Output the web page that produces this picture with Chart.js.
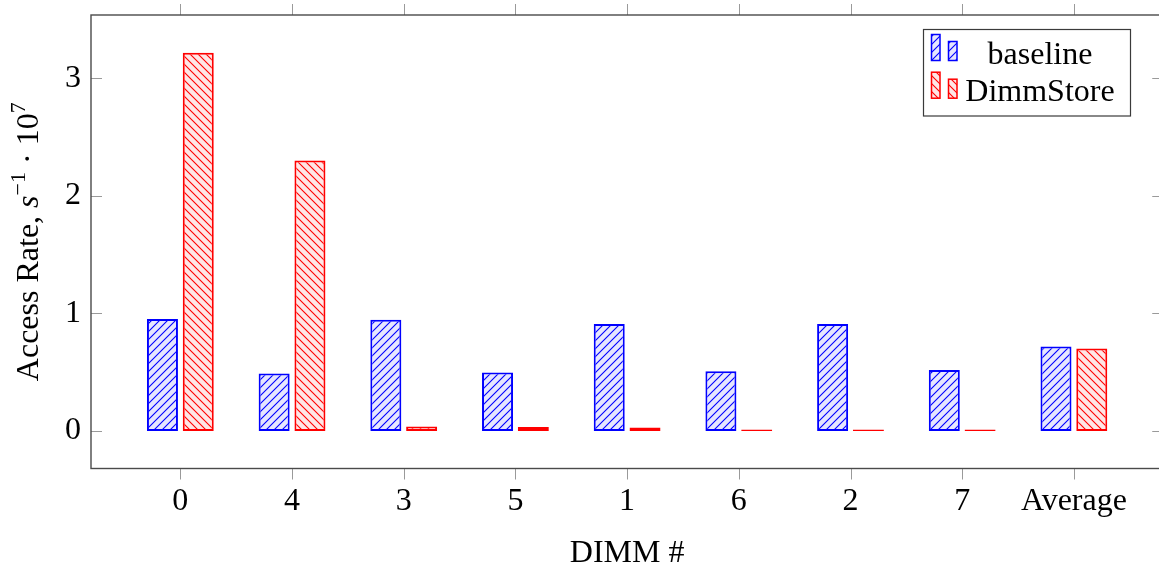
<!DOCTYPE html>
<html>
<head>
<meta charset="utf-8">
<script src="https://cdn.jsdelivr.net/npm/chart.js@4.4.1/dist/chart.umd.min.js"></script>
<style>
  html, body { margin: 0; padding: 0; background: #fff; }
  #wrap { width: 1159px; height: 568px; }
</style>
</head>
<body>
<div id="wrap"><canvas id="chart" width="1159" height="568"></canvas></div>
<script>
// Access rate per DIMM, in units of 10^7 accesses per second
const categories = ['0', '4', '3', '5', '1', '6', '2', '7', 'Average'];
const baselineRate = [0.952, 0.488, 0.945, 0.496, 0.910, 0.507, 0.910, 0.519, 0.717];
const dimmStoreRate = [3.217, 2.300, 0.037, 0.034, 0.028, 0.004, 0.004, 0.004, 0.700];
const seriesNames = ['baseline', 'DimmStore'];
const yTickValues = [0, 1, 2, 3];
const xAxisTitle = 'DIMM #';

const SERIF = "'Liberation Serif', 'Times New Roman', serif";
const FONT_PX = 32;

// Diagonal hatch fill, like TikZ "north east lines" / "north west lines"
function hatch(fill, stroke, dir) {
  const s = 8;
  const c = document.createElement('canvas');
  c.width = s; c.height = s;
  const g = c.getContext('2d');
  g.fillStyle = fill;
  g.fillRect(0, 0, s, s);
  g.strokeStyle = stroke;
  g.lineWidth = 1.1;
  g.beginPath();
  if (dir === 'ne') {
    g.moveTo(-1, s + 1); g.lineTo(s + 1, -1);
    g.moveTo(-1, 1); g.lineTo(1, -1);
    g.moveTo(s - 1, s + 1); g.lineTo(s + 1, s - 1);
  } else {
    g.moveTo(-1, -1); g.lineTo(s + 1, s + 1);
    g.moveTo(s - 1, -1); g.lineTo(s + 1, 1);
    g.moveTo(-1, s - 1); g.lineTo(1, s + 1);
  }
  g.stroke();
  return g.createPattern(c, 'repeat');
}

const ctx0 = document.getElementById('chart').getContext('2d');
const bluePattern = hatch('rgb(230,230,255)', 'rgb(0,0,255)', 'ne');
const redPattern = hatch('rgb(255,230,230)', 'rgb(255,0,0)', 'nw');

const toPoints = vals => vals.map((v, i) => ({ x: i, y: v }));

// Frame, mirrored ticks, axis titles and legend box
const decorations = {
  id: 'decorations',
  afterDraw(chart) {
    const { ctx, chartArea: a, scales: { x, y } } = chart;
    const right = x.getPixelForValue(8.8);
    const tick = 11;
    ctx.save();

    // ticks
    ctx.strokeStyle = '#9a9a9a';
    ctx.lineWidth = 1;
    ctx.beginPath();
    x.ticks.forEach(t => {
      const px = Math.round(x.getPixelForValue(t.value)) + 0.5;
      ctx.moveTo(px, a.top); ctx.lineTo(px, a.top - tick);
      ctx.moveTo(px, a.bottom); ctx.lineTo(px, a.bottom + tick);
    });
    y.ticks.forEach(t => {
      const py = Math.round(y.getPixelForValue(t.value)) + 0.5;
      ctx.moveTo(a.left, py); ctx.lineTo(a.left + tick, py);
      ctx.moveTo(right, py); ctx.lineTo(right - tick, py);
    });
    ctx.stroke();

    // axis box
    ctx.strokeStyle = '#4a4a4a';
    ctx.lineWidth = 1.4;
    ctx.strokeRect(a.left, a.top, right - a.left, a.bottom - a.top);

    // x title
    ctx.fillStyle = '#000';
    ctx.font = FONT_PX + 'px ' + SERIF;
    ctx.textAlign = 'center';
    ctx.textBaseline = 'alphabetic';
    ctx.fillText(xAxisTitle, (a.left + right) / 2, 562);

    // y title with italic s and superscripts
    const parts = [
      { t: 'Access Rate, ', f: FONT_PX + 'px ' + SERIF, dy: 0 },
      { t: 's', f: 'italic ' + FONT_PX + 'px ' + SERIF, dy: 0 },
      { t: '\u22121', f: '22px ' + SERIF, dy: -13 },
      { t: ' \u00b7 10', f: FONT_PX + 'px ' + SERIF, dy: 0 },
      { t: '7', f: '22px ' + SERIF, dy: -13 }
    ];
    let total = 0;
    parts.forEach(p => { ctx.font = p.f; p.w = ctx.measureText(p.t).width; total += p.w; });
    ctx.translate(38, (a.top + a.bottom) / 2);
    ctx.rotate(-Math.PI / 2);
    ctx.textAlign = 'left';
    let cx = -total / 2;
    parts.forEach(p => { ctx.font = p.f; ctx.fillText(p.t, cx, p.dy); cx += p.w; });
    ctx.setTransform(1, 0, 0, 1, 0, 0);

    // legend
    ctx.fillStyle = '#fff';
    ctx.fillRect(923.5, 29.5, 207, 86.5);
    ctx.strokeStyle = '#3a3a3a';
    ctx.lineWidth = 1.2;
    ctx.strokeRect(923.5, 29.5, 207, 86.5);
    chart.data.datasets.forEach((ds, i) => {
      const dy = i * 37.7;
      ctx.fillStyle = ds.backgroundColor;
      ctx.strokeStyle = ds.borderColor;
      ctx.lineWidth = 1.5;
      ctx.fillRect(931.5, 34.5 + dy, 8.5, 26);
      ctx.strokeRect(931.5, 34.5 + dy, 8.5, 26);
      ctx.fillRect(948.5, 41.5 + dy, 8.5, 19);
      ctx.strokeRect(948.5, 41.5 + dy, 8.5, 19);
      ctx.fillStyle = '#000';
      ctx.font = FONT_PX + 'px ' + SERIF;
      ctx.textAlign = 'center';
      ctx.fillText(ds.label, 1040, 63.5 + dy);
    });
    ctx.restore();
  }
};

Chart.defaults.font.family = SERIF;
Chart.defaults.font.size = FONT_PX;
Chart.defaults.color = '#000';

new Chart(ctx0, {
  type: 'bar',
  data: {
    datasets: [
      {
        label: seriesNames[0],
        data: toPoints(baselineRate),
        backgroundColor: bluePattern,
        borderColor: 'rgb(0,0,255)',
        borderWidth: 2,
        borderSkipped: false,
        minBarLength: 1.5
      },
      {
        label: seriesNames[1],
        data: toPoints(dimmStoreRate),
        backgroundColor: redPattern,
        borderColor: 'rgb(255,0,0)',
        borderWidth: 2,
        borderSkipped: false,
        minBarLength: 1.5
      }
    ]
  },
  options: {
    responsive: false,
    animation: false,
    devicePixelRatio: 1,
    categoryPercentage: 0.641,
    barPercentage: 0.866,
    layout: { padding: { top: 15, left: 0, right: 0, bottom: 0 } },
    plugins: {
      legend: { display: false },
      tooltip: { enabled: false }
    },
    scales: {
      x: {
        type: 'linear',
        offset: false,
        min: -0.8,
        max: 8.762,
        afterBuildTicks: s => { s.ticks = categories.map((_, i) => ({ value: i })); },
        afterFit: s => { s.height = 99.5; s.paddingLeft = 0; s.paddingRight = 0; },
        ticks: {
          padding: 14,
          autoSkip: false,
          maxRotation: 0,
          callback: v => categories[v]
        },
        grid: { display: false, drawTicks: false },
        border: { display: false }
      },
      y: {
        min: -0.32,
        max: 3.538,
        afterBuildTicks: s => { s.ticks = yTickValues.map(v => ({ value: v })); },
        afterFit: s => { s.width = 91; s.paddingTop = 0; s.paddingBottom = 0; },
        ticks: { padding: 10 },
        grid: { display: false, drawTicks: false },
        border: { display: false }
      }
    }
  },
  plugins: [decorations]
});
</script>
</body>
</html>
